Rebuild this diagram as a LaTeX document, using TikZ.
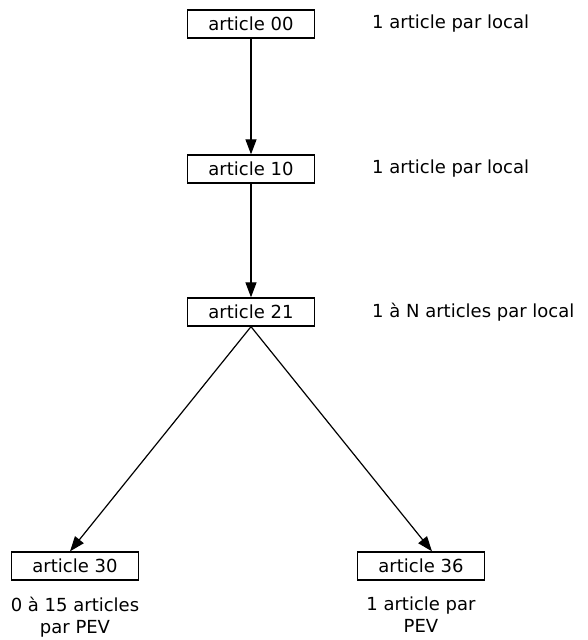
\documentclass[tikz,border=0pt]{standalone}
\usepackage{fontspec}
\setmainfont{DejaVu Sans}
\usetikzlibrary{arrows.meta}
\begin{document}
\begin{tikzpicture}[x=1pt,y=-1pt,
  box/.style={draw,line width=1.3pt,minimum width=127pt,minimum height=28pt,inner sep=0pt,font=\fontsize{18}{22}\selectfont},
  lbl/.style={font=\fontsize{18}{22}\selectfont,inner sep=0pt},
  conn/.style={line width=1.2pt,-{Triangle[length=15pt,width=11pt]}}]
\useasboundingbox (0,0) rectangle (587,640);
\node[box] (a00) at (251,24) {article 00};
\node[box] (a10) at (251,169) {article 10};
\node[box] (a21) at (251,312) {article 21};
\node[box] (a30) at (75,566) {article 30};
\node[box] (a36) at (421,566) {article 36};
\node[lbl,anchor=west] (l00) at (372,24) {1 article par local};
\node[lbl,anchor=west] (l10) at (372,169) {1 article par local};
\node[lbl,anchor=west] (l21) at (372,312) {1 à N articles par local};
\node[lbl,align=center,anchor=north] (l30) at (75,597) {0 à 15 articles\\par PEV};
\node[lbl,align=center,anchor=north] (l36) at (421,597) {1 article par\\PEV};
\draw[conn] (a00) -- (a10);
\draw[conn] (a10) -- (a21);
\draw[conn] (a21.south) -- ([xshift=-5pt]a30.north);
\draw[conn] (a21.south) -- ([xshift=11pt]a36.north);
\end{tikzpicture}
\end{document}
